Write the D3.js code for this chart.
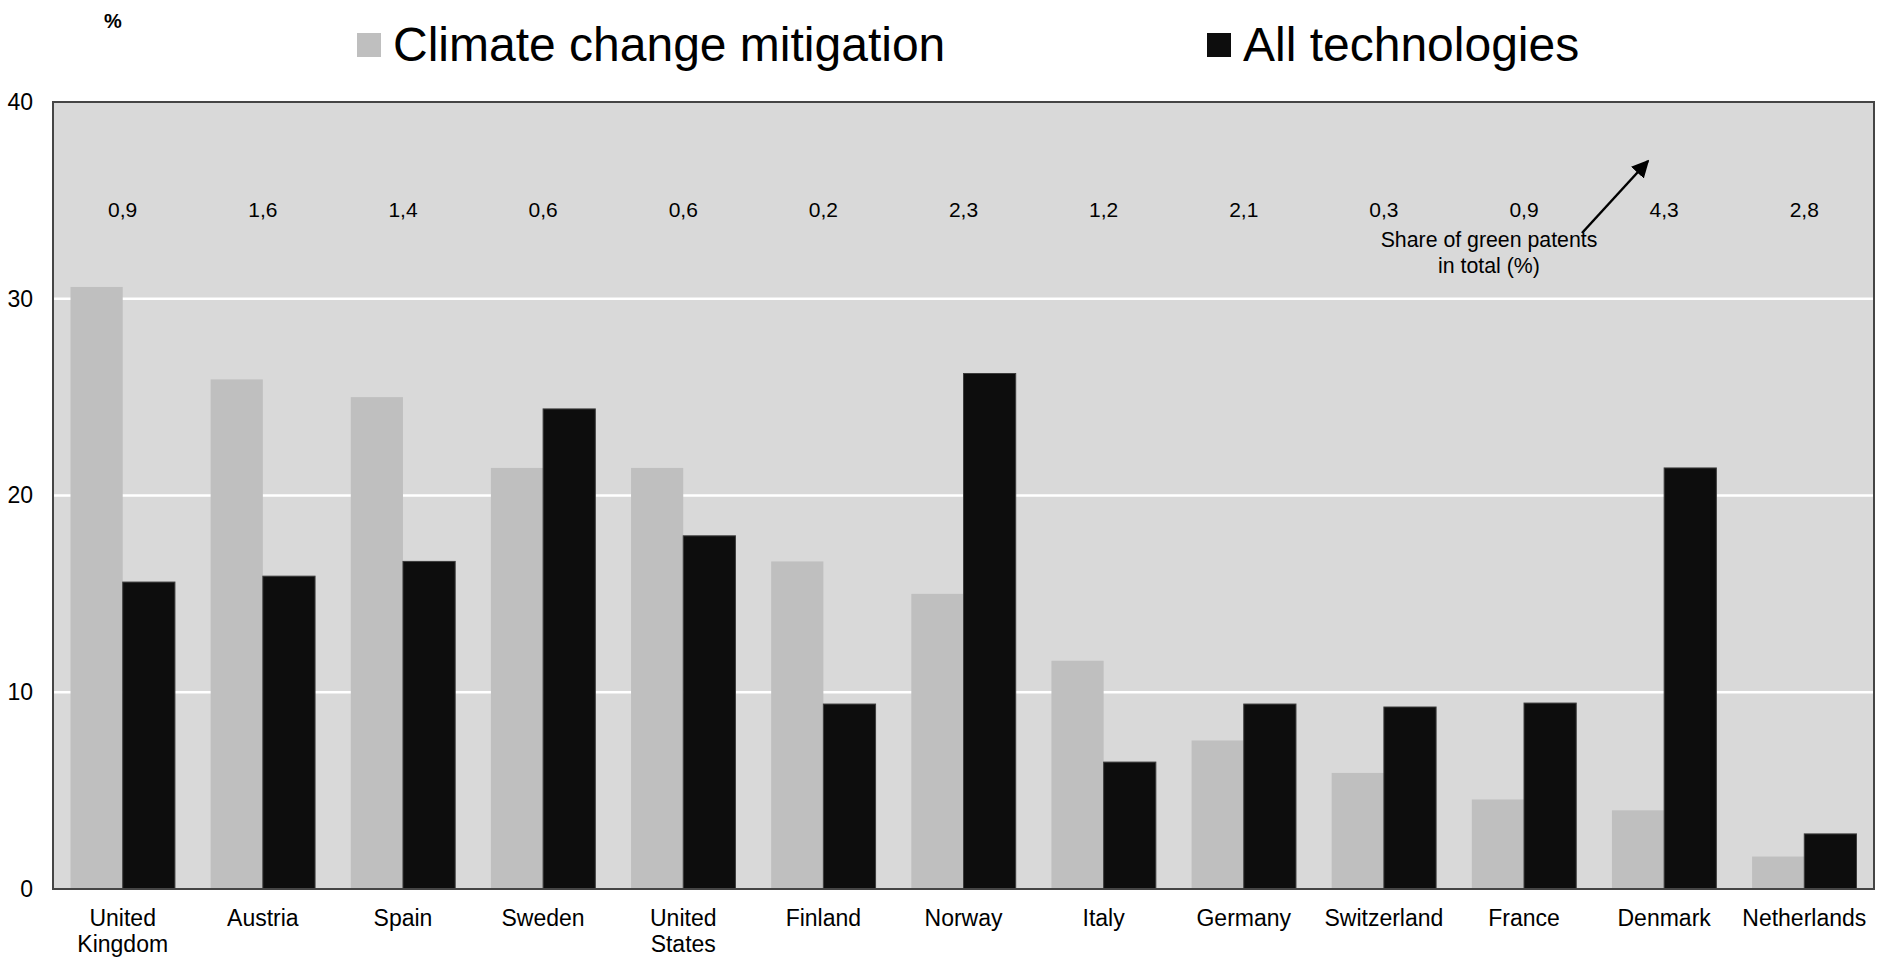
<!DOCTYPE html>
<html>
<head>
<meta charset="utf-8">
<script src="https://cdn.jsdelivr.net/npm/d3@7"></script>
<style>
  html, body { margin: 0; padding: 0; background: #fff; }
  svg { display: block; font-family: "Liberation Sans", Arial, sans-serif; }
</style>
</head>
<body>
<svg id="chart" width="1886" height="959"></svg>
<script>
// ---- data ----
const countries = ["United Kingdom", "Austria", "Spain", "Sweden", "United States", "Finland",
  "Norway", "Italy", "Germany", "Switzerland", "France", "Denmark", "Netherlands"];
const climateMitigation = [30.6, 25.9, 25.0, 21.4, 21.4, 16.65, 15.0, 11.6, 7.55, 5.9, 4.55, 4.0, 1.65];
const allTechnologies  = [15.6, 15.9, 16.65, 24.4, 17.95, 9.4, 26.2, 6.45, 9.4, 9.25, 9.45, 21.4, 2.8];
const greenShare = [0.9, 1.6, 1.4, 0.6, 0.6, 0.2, 2.3, 1.2, 2.1, 0.3, 0.9, 4.3, 2.8];
const seriesNames = ["Climate change mitigation", "All technologies"];
const seriesColors = ["#bfbfbf", "#0d0d0d"];
const yTicks = [0, 10, 20, 30, 40];
const yAxisUnit = "%";
const annotationLines = ["Share of green patents", "in total (%)"];

// ---- layout ----
const svg = d3.select("#chart");
const plot = { left: 53, right: 1874, top: 102, bottom: 889 };

const x = d3.scaleBand().domain(countries)
  .range([plot.left, plot.right]).paddingInner(0.255).paddingOuter(0.125);
const x1 = d3.scaleBand().domain(seriesNames).range([0, x.bandwidth()]).padding(0);
const y = d3.scaleLinear().domain([0, 40]).range([plot.bottom, plot.top]);
const color = d3.scaleOrdinal().domain(seriesNames).range(seriesColors);

const locale = d3.formatLocale({ decimal: ",", thousands: " ", grouping: [3], currency: ["", ""] });
const fmt = locale.format(".1f");

// background
svg.append("rect")
  .attr("x", plot.left).attr("y", plot.top)
  .attr("width", plot.right - plot.left).attr("height", plot.bottom - plot.top)
  .attr("fill", "#d9d9d9");

// gridlines
svg.append("g").selectAll("line")
  .data(yTicks.filter(t => t > 0 && t < 40))
  .join("line")
  .attr("x1", plot.left).attr("x2", plot.right)
  .attr("y1", d => y(d)).attr("y2", d => y(d))
  .attr("stroke", "#ffffff").attr("stroke-width", 2.5);

// bars
const rows = countries.map((c, i) => ({ country: c, values: [climateMitigation[i], allTechnologies[i]] }));
const groups = svg.append("g").selectAll("g")
  .data(rows).join("g")
  .attr("transform", d => `translate(${x(d.country)},0)`);

groups.selectAll("rect")
  .data(d => d.values.map((v, k) => ({ key: seriesNames[k], value: v })))
  .join("rect")
  .attr("x", d => x1(d.key))
  .attr("y", d => y(d.value))
  .attr("width", x1.bandwidth())
  .attr("height", d => y(0) - y(d.value))
  .attr("fill", d => color(d.key))
  .attr("stroke", d => d.key === seriesNames[1] ? "#3c3c3c" : "none")
  .attr("stroke-width", 1);

// plot border
svg.append("rect")
  .attr("x", plot.left).attr("y", plot.top)
  .attr("width", plot.right - plot.left).attr("height", plot.bottom - plot.top)
  .attr("fill", "none").attr("stroke", "#454545").attr("stroke-width", 2);

// y axis labels
const yAxis = d3.axisLeft(y).tickValues(yTicks).tickSize(0).tickPadding(20);
const yg = svg.append("g").attr("transform", `translate(${plot.left},0)`).call(yAxis);
yg.select(".domain").remove();
yg.selectAll("text")
  .attr("font-family", "Liberation Sans, Arial, sans-serif")
  .attr("font-size", 23).attr("fill", "#000");

// y unit
svg.append("text")
  .attr("x", 113).attr("y", 28)
  .attr("text-anchor", "middle")
  .attr("font-size", 20).attr("font-weight", "bold")
  .text(yAxisUnit);

// category labels
const catG = svg.append("g").selectAll("text")
  .data(countries).join("text")
  .attr("x", d => x(d) + x.bandwidth() / 2)
  .attr("y", 926)
  .attr("text-anchor", "middle")
  .attr("font-size", 23)
  .attr("fill", "#000");
catG.each(function(d) {
  const parts = d.split(" ");
  const t = d3.select(this);
  parts.forEach((p, i) => {
    t.append("tspan")
      .attr("x", x(d) + x.bandwidth() / 2)
      .attr("dy", i === 0 ? 0 : 26)
      .text(p);
  });
});

// green share values
svg.append("g").selectAll("text")
  .data(countries).join("text")
  .attr("x", d => x(d) + x.bandwidth() / 2)
  .attr("y", 217)
  .attr("text-anchor", "middle")
  .attr("font-size", 21)
  .attr("fill", "#000")
  .text((d, i) => fmt(greenShare[i]));

// annotation
const ann = svg.append("text")
  .attr("text-anchor", "middle")
  .attr("font-size", 21.3)
  .attr("fill", "#000");
annotationLines.forEach((l, i) => {
  ann.append("tspan").attr("x", 1489).attr("y", 247 + i * 25.5).text(l);
});

svg.append("defs").append("marker")
  .attr("id", "arrowhead")
  .attr("viewBox", "0 0 10 10")
  .attr("refX", 9).attr("refY", 5)
  .attr("markerWidth", 7).attr("markerHeight", 7)
  .attr("markerUnits", "strokeWidth")
  .attr("orient", "auto")
  .append("path").attr("d", "M0,0 L10,5 L0,10 z").attr("fill", "#000");

svg.append("line")
  .attr("x1", 1582).attr("y1", 233)
  .attr("x2", 1648).attr("y2", 161)
  .attr("stroke", "#000").attr("stroke-width", 2.5)
  .attr("marker-end", "url(#arrowhead)");

// legend
const legendPos = [{ sx: 357, tx: 393 }, { sx: 1207, tx: 1243 }];
const leg = svg.append("g").selectAll("g")
  .data(seriesNames).join("g");
leg.append("rect")
  .attr("x", (d, i) => legendPos[i].sx).attr("y", 33)
  .attr("width", 24).attr("height", 24)
  .attr("fill", d => color(d));
leg.append("text")
  .attr("x", (d, i) => legendPos[i].tx).attr("y", 61)
  .attr("font-size", 48).attr("fill", "#000")
  .text(d => d);
</script>
</body>
</html>
